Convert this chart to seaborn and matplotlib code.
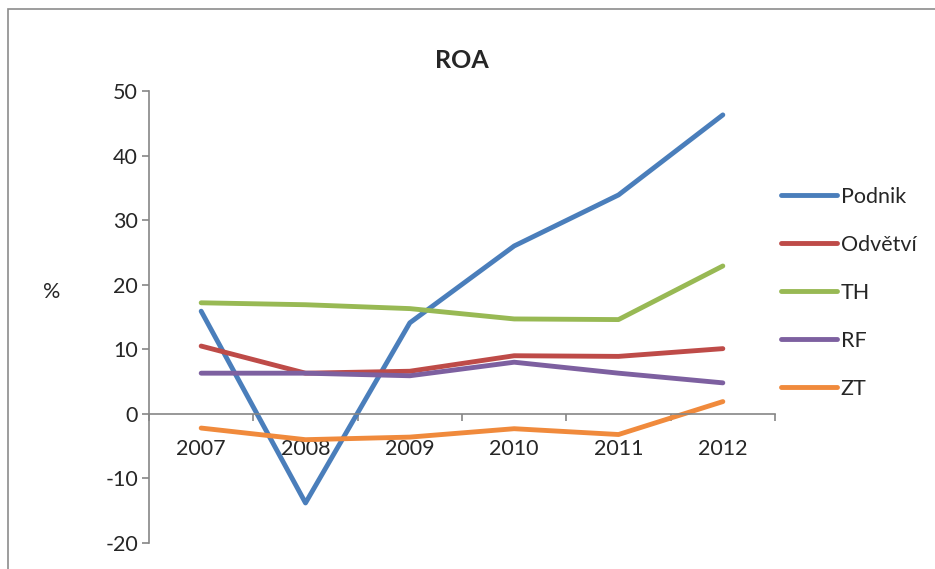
import seaborn as sns
import matplotlib.pyplot as plt
import pandas as pd
from matplotlib.patches import Rectangle

# Data
years = ['2007', '2008', '2009', '2010', '2011', '2012']
podnik = [15.9, -13.8, 14.1, 26.0, 33.9, 46.3]
odvetvi = [10.5, 6.3, 6.6, 9.0, 8.9, 10.1]
th = [17.2, 16.9, 16.3, 14.7, 14.6, 22.9]
rf = [6.3, 6.3, 5.9, 8.0, 6.3, 4.8]
zt = [-2.2, -4.0, -3.6, -2.3, -3.2, 1.9]

series_names = ['Podnik', 'Odvětví', 'TH', 'RF', 'ZT']
series_values = [podnik, odvetvi, th, rf, zt]
colors = ['#4A7EBB', '#BE4B48', '#98B954', '#7D60A0', '#F08A3C']

rows = []
for name, vals in zip(series_names, series_values):
    for i, v in enumerate(vals):
        rows.append({'pos': i, 'value': v, 'series': name})
df = pd.DataFrame(rows)

sns.set_style('white')
plt.rcParams['font.family'] = ['Lato', 'DejaVu Sans']
plt.rcParams['axes.unicode_minus'] = False

fig = plt.figure(figsize=(9.35, 5.69), dpi=100)
ax = fig.add_axes([149/935, 1-543/569, 626/935, 452/569])

sns.lineplot(data=df, x='pos', y='value', hue='series', hue_order=series_names,
             palette=dict(zip(series_names, colors)), linewidth=3.5, sort=False,
             ax=ax, legend=False)

axis_col = '#868686'
ax.set_xlim(-0.5, len(years) - 0.5)
ax.set_ylim(-20, 50)
ax.set_yticks(range(-20, 51, 10))
ax.tick_params(axis='y', direction='out', length=5, width=1.2, color=axis_col,
               labelsize=15.5, pad=3, left=True)

# x axis crossing at zero, ticks between categories, labels under categories
ax.spines['bottom'].set_position(('data', 0))
ax.set_xticks([i - 0.5 for i in range(len(years) + 1)])
ax.set_xticklabels([])
ax.set_xticks(range(len(years)), minor=True)
ax.set_xticklabels(years, minor=True)
ax.tick_params(axis='x', which='major', direction='out', length=5, width=1.2,
               color=axis_col, bottom=True)
ax.tick_params(axis='x', which='minor', length=0, labelsize=15.5, pad=18)

for s in ['top', 'right']:
    ax.spines[s].set_visible(False)
for s in ['left', 'bottom']:
    ax.spines[s].set_color(axis_col)
    ax.spines[s].set_linewidth(1.2)
ax.set_xlabel('')
ax.set_ylabel('')
ax.patch.set_alpha(0)

fig.text(52/935, 1-292/569, '%', fontsize=15.5, ha='center', va='center')
fig.text(462/935, 1-60/569, 'ROA', fontsize=18, fontweight='bold', ha='center', va='center')

# legend
handles = [plt.Line2D([], [], color=c, linewidth=3.5, solid_capstyle='round') for c in colors]
fig.legend(handles, series_names, loc='upper left', bbox_to_anchor=(772/935, 1-178/569),
           frameon=False, fontsize=15.5, handlelength=2.6, handletextpad=0.2,
           labelspacing=1.3, borderaxespad=0)

# outer chart frame
fig.patches.append(Rectangle((8/935, -0.1), 1.0, 1 - 9/569 + 0.1, transform=fig.transFigure,
                             fill=False, edgecolor='#8c8c8c', linewidth=1.2))

fig.savefig('out.png', dpi=100)
